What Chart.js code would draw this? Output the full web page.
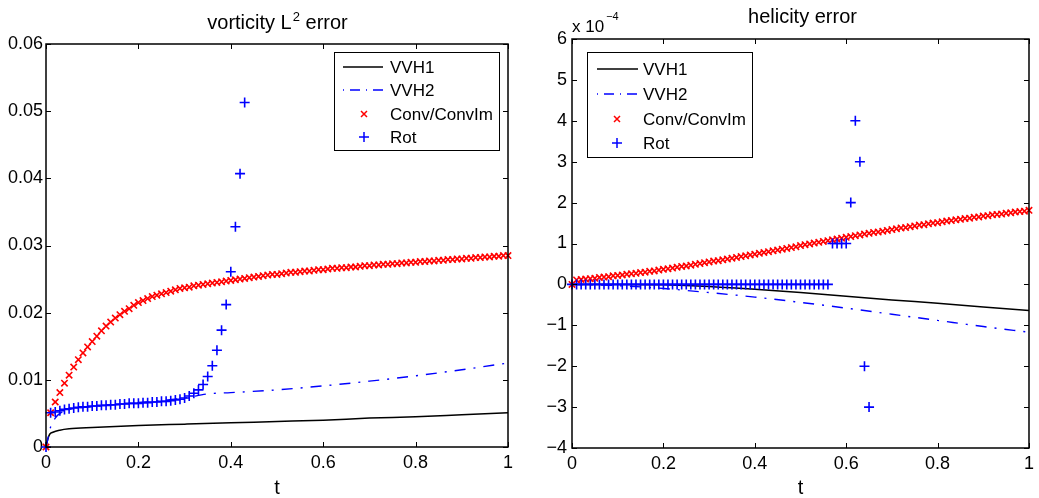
<!DOCTYPE html>
<html>
<head>
<meta charset="utf-8">
<script src="https://cdn.jsdelivr.net/npm/chart.js@4.4.1/dist/chart.umd.min.js"></script>
<style>
  body { margin: 0; background: #fff; }
  #wrap { position: relative; width: 1039px; height: 498px; }
  canvas { position: absolute; top: 0; }
</style>
</head>
<body>
<div id="wrap">
  <canvas id="vort" width="520" height="498" style="left:0"></canvas>
  <canvas id="heli" width="519" height="498" style="left:520px"></canvas>
</div>
<script>
// marker series are sampled every 0.01 in t
const markerStep = 0.01

const xTicks = [0, 0.2, 0.4, 0.6, 0.8, 1]
const vortTicks = [0, 0.01, 0.02, 0.03, 0.04, 0.05, 0.06]
const heliTicks = [-4, -3, -2, -1, 0, 1, 2, 3, 4, 5, 6]

// vorticity L2 error
const vortConv = [
  0, 0.0051, 0.0067, 0.0081, 0.0095, 0.0107, 0.0119, 0.0130, 0.0140, 0.0149,
  0.0157, 0.0165, 0.0173, 0.0180, 0.0186, 0.0192, 0.0197, 0.0202, 0.0206, 0.0211,
  0.0215, 0.0218, 0.0221, 0.0224, 0.0226, 0.0228, 0.0230, 0.0232, 0.0234, 0.0236,
  0.0237, 0.0238, 0.0240, 0.0241, 0.0242, 0.0243, 0.0244, 0.0245, 0.0246, 0.0247,
  0.0248, 0.0249, 0.0250, 0.0251, 0.0252, 0.0253, 0.0254, 0.0255, 0.0256, 0.0257,
  0.0257, 0.0258, 0.0259, 0.0260, 0.0260, 0.0261, 0.0262, 0.0262, 0.0263, 0.0264,
  0.0264, 0.0265, 0.0266, 0.0266, 0.0267, 0.0267, 0.0268, 0.0268, 0.0269, 0.0270,
  0.0270, 0.0271, 0.0271, 0.0272, 0.0272, 0.0273, 0.0273, 0.0274, 0.0274, 0.0275,
  0.0275, 0.0276, 0.0276, 0.0277, 0.0277, 0.0278, 0.0278, 0.0279, 0.0279, 0.0280,
  0.0280, 0.0281, 0.0281, 0.0282, 0.0282, 0.0283, 0.0283, 0.0284, 0.0284, 0.0285,
  0.0285
]
const vortRot = [
  0, 0.0051, 0.0052, 0.0054, 0.0056, 0.0057, 0.0058, 0.0059, 0.0060, 0.0060,
  0.0061, 0.0061, 0.0062, 0.0062, 0.0063, 0.0063, 0.0064, 0.0064, 0.0065, 0.0065,
  0.0065, 0.0066, 0.0066, 0.0067, 0.0067, 0.0068, 0.0068, 0.0069, 0.0070, 0.0071,
  0.0073, 0.0076, 0.0080, 0.0085, 0.0093, 0.0105, 0.0121, 0.0144, 0.0174, 0.0212,
  0.0261, 0.0328, 0.0407, 0.0513
]
const vortLineT1 = [0, 0.004, 0.008, 0.015, 0.03, 0.05, 0.1, 0.2, 0.3, 0.4, 0.5, 0.6, 0.7, 0.8, 0.9, 1]
const vortVVH1 = [0, 0.0012, 0.0019, 0.0022, 0.0025, 0.0027, 0.0029, 0.0032, 0.0034, 0.0036, 0.0038, 0.0040, 0.0043, 0.0045, 0.0048, 0.0051]
const vortLineT2 = [0, 0.005, 0.01, 0.02, 0.03, 0.05, 0.1, 0.2, 0.3, 0.35, 0.4, 0.5, 0.6, 0.7, 0.8, 0.9, 1]
const vortVVH2 = [0, 0.0015, 0.0030, 0.0043, 0.0050, 0.0056, 0.0060, 0.0066, 0.0073, 0.0079, 0.0081, 0.0085, 0.0091, 0.0098, 0.0106, 0.0115, 0.0125]

// helicity error (x 1e-4)
const heliConv = [
  0, 0.11, 0.12, 0.13, 0.14, 0.15, 0.17, 0.18, 0.19, 0.21,
  0.22, 0.23, 0.25, 0.26, 0.27, 0.29, 0.30, 0.32, 0.33, 0.35,
  0.37, 0.38, 0.40, 0.42, 0.44, 0.45, 0.47, 0.49, 0.51, 0.53,
  0.55, 0.57, 0.58, 0.60, 0.62, 0.64, 0.66, 0.68, 0.70, 0.72,
  0.74, 0.76, 0.78, 0.80, 0.82, 0.84, 0.86, 0.88, 0.90, 0.92,
  0.95, 0.97, 0.99, 1.01, 1.03, 1.05, 1.07, 1.09, 1.11, 1.13,
  1.15, 1.17, 1.19, 1.21, 1.23, 1.25, 1.27, 1.28, 1.30, 1.32,
  1.34, 1.36, 1.38, 1.39, 1.41, 1.43, 1.45, 1.46, 1.48, 1.50,
  1.51, 1.53, 1.55, 1.56, 1.58, 1.59, 1.61, 1.62, 1.64, 1.65,
  1.67, 1.68, 1.70, 1.71, 1.72, 1.74, 1.75, 1.77, 1.78, 1.79,
  1.81
]
const heliRot = [
  0, 0, 0, 0, 0, 0, 0, 0, 0, 0,
  0, 0, 0, 0, 0, 0, 0, 0, 0, 0,
  0, 0, 0, 0, 0, 0, 0, 0, 0, 0,
  0, 0, 0, 0, 0, 0, 0, 0, 0, 0,
  0, 0, 0, 0, 0, 0, 0, 0, 0, 0,
  0, 0, 0, 0, 0, 0, 0, 1, 1, 1,
  1, 2, 4, 3, -2, -3
]
const heliLineT = [0, 0.1, 0.2, 0.3, 0.4, 0.5, 0.6, 0.7, 0.8, 0.9, 1]
const heliVVH1 = [0, 0, -0.01, -0.05, -0.12, -0.20, -0.29, -0.38, -0.46, -0.55, -0.64]
const heliVVH2 = [0, -0.03, -0.10, -0.20, -0.31, -0.44, -0.58, -0.73, -0.88, -1.03, -1.17]

const FONT = "'Liberation Sans', Arial, Helvetica, sans-serif"
const RED = '#ff0000'
const BLUE = '#0000ff'

const markerPoints = vals => vals.map((y, i) => ({x: Math.round(i * markerStep * 100) / 100, y}))
const linePoints = (ts, vals) => vals.map((y, i) => ({x: ts[i], y}))
const minus = v => v < 0 ? '\u2212' + Math.abs(v) : String(v)

function makeDatasets(t1, v1, t2, v2, conv, rot) {
  return [
    {label: 'VVH1', data: linePoints(t1, v1), showLine: true, borderColor: '#000', borderWidth: 1.5,
      pointRadius: 0, cubicInterpolationMode: 'monotone', order: 4},
    {label: 'VVH2', data: linePoints(t2, v2), showLine: true, borderColor: BLUE, borderWidth: 1.4,
      borderDash: [11, 8, 2, 8], pointRadius: 0, cubicInterpolationMode: 'monotone', order: 3},
    {label: 'Conv/ConvIm', data: markerPoints(conv), showLine: false, pointStyle: 'crossRot',
      pointRadius: 4.5, borderColor: RED, pointBorderWidth: 1.6, clip: false, order: 2},
    {label: 'Rot', data: markerPoints(rot), showLine: false, pointStyle: 'cross',
      pointRadius: 5, borderColor: BLUE, pointBorderWidth: 1.6, clip: false, order: 1}
  ]
}

// axes box, inward ticks, titles and legend drawn MATLAB-style
const matlabPlugin = {
  id: 'matlab',
  afterDraw(chart, args, opts) {
    const ctx = chart.ctx
    const a = chart.chartArea
    const xs = chart.scales.x, ys = chart.scales.y
    ctx.save()
    ctx.strokeStyle = '#000'
    ctx.lineWidth = 1.5
    ctx.strokeRect(a.left, a.top, a.right - a.left, a.bottom - a.top)
    ctx.lineWidth = 1
    ctx.beginPath()
    const tl = 5
    xs.ticks.forEach(t => {
      const px = Math.round(xs.getPixelForValue(t.value)) + 0.5
      ctx.moveTo(px, a.bottom); ctx.lineTo(px, a.bottom - tl)
      ctx.moveTo(px, a.top); ctx.lineTo(px, a.top + tl)
    })
    ys.ticks.forEach(t => {
      const py = Math.round(ys.getPixelForValue(t.value)) + 0.5
      ctx.moveTo(a.left, py); ctx.lineTo(a.left + tl, py)
      ctx.moveTo(a.right, py); ctx.lineTo(a.right - tl, py)
    })
    ctx.stroke()

    ctx.fillStyle = '#000'
    ctx.textBaseline = 'alphabetic'
    // title, with optional superscript part
    const tt = opts.title
    ctx.font = '20px ' + FONT
    const w1 = ctx.measureText(tt.before).width
    const w3 = tt.after ? ctx.measureText(tt.after).width : 0
    ctx.font = '13px ' + FONT
    const w2 = tt.sup ? ctx.measureText(tt.sup).width : 0
    let x = tt.x - (w1 + w2 + w3) / 2
    ctx.textAlign = 'left'
    ctx.font = '20px ' + FONT
    ctx.fillText(tt.before, x, tt.y)
    x += w1
    if (tt.sup) {
      ctx.font = '13px ' + FONT
      ctx.fillText(tt.sup, x + 1, tt.y - 8)
      x += w2 + 1
      ctx.font = '20px ' + FONT
      ctx.fillText(tt.after, x, tt.y)
    }
    // x axis label
    ctx.font = '20px ' + FONT
    ctx.textAlign = 'center'
    ctx.fillText('t', (a.left + a.right) / 2, 494)
    // exponent note
    if (opts.exponent) {
      const e = opts.exponent
      ctx.textAlign = 'left'
      ctx.font = '17px ' + FONT
      ctx.fillText(e.base, e.x, e.y)
      const bw = ctx.measureText(e.base).width
      ctx.font = '11px ' + FONT
      ctx.fillText(e.power, e.x + bw + 2, e.y - 12)
    }
    // legend
    const lg = opts.legend
    ctx.fillStyle = '#fff'
    ctx.fillRect(lg.x, lg.y, lg.w, lg.h)
    ctx.strokeStyle = '#000'
    ctx.lineWidth = 1
    ctx.strokeRect(lg.x + 0.5, lg.y + 0.5, lg.w, lg.h)
    chart.data.datasets.forEach((ds, i) => {
      const y = lg.rows[i]
      ctx.strokeStyle = ds.borderColor
      ctx.lineWidth = ds.showLine ? ds.borderWidth : 1.5
      ctx.beginPath()
      if (ds.showLine) {
        ctx.setLineDash(ds.borderDash ? [1, 6, 10, 6] : [])
        ctx.moveTo(lg.lineX0, y); ctx.lineTo(lg.lineX1, y)
      } else if (ds.pointStyle === 'cross') {
        ctx.moveTo(lg.markX - 5, y); ctx.lineTo(lg.markX + 5, y)
        ctx.moveTo(lg.markX, y - 5); ctx.lineTo(lg.markX, y + 5)
      } else {
        const r = 3
        ctx.moveTo(lg.markX - r, y - r); ctx.lineTo(lg.markX + r, y + r)
        ctx.moveTo(lg.markX - r, y + r); ctx.lineTo(lg.markX + r, y - r)
      }
      ctx.stroke()
      ctx.setLineDash([])
      ctx.fillStyle = '#000'
      ctx.font = '17px ' + FONT
      ctx.textAlign = 'left'
      ctx.textBaseline = 'middle'
      ctx.fillText(ds.label, lg.textX, y + 1)
    })
    ctx.restore()
  }
}

function axisOpts(ticks, fmt, size, pad) {
  return {
    type: 'linear',
    min: ticks[0],
    max: ticks[ticks.length - 1],
    afterBuildTicks: s => { s.ticks = ticks.map(v => ({value: v})) },
    ticks: {callback: fmt, color: '#000', font: {size: 18, family: FONT}, padding: pad,
      maxRotation: 0, autoSkip: false},
    grid: {display: false, drawTicks: false},
    border: {display: false},
    afterFit: s => { if (s.isHorizontal()) s.height = size; else s.width = size }
  }
}

function makeChart(id, datasets, yTicks, yFmt, dims, plugOpts) {
  return new Chart(document.getElementById(id), {
    type: 'scatter',
    data: {datasets},
    options: {
      responsive: false,
      devicePixelRatio: 1,
      animation: false,
      events: [],
      layout: {padding: {top: dims.top, right: dims.right, left: 0, bottom: 0}},
      scales: {
        x: axisOpts(xTicks, v => String(v), dims.xh, 5),
        y: axisOpts(yTicks, yFmt, dims.yw, dims.ypad)
      },
      plugins: {legend: {display: false}, tooltip: {enabled: false}, matlab: plugOpts}
    },
    plugins: [matlabPlugin]
  })
}

Chart.defaults.font.family = FONT

makeChart('vort',
  makeDatasets(vortLineT1, vortVVH1, vortLineT2, vortVVH2, vortConv, vortRot),
  vortTicks, v => String(v),
  {top: 44, right: 12, xh: 51, yw: 46, ypad: 3},
  {
    title: {before: 'vorticity L', sup: '2', after: ' error', x: 277, y: 29},
    legend: {x: 334, y: 52, w: 165, h: 98, rows: [67, 90, 114, 137],
      lineX0: 343, lineX1: 383, markX: 364, textX: 390}
  })

makeChart('heli',
  makeDatasets(heliLineT, heliVVH1, heliLineT, heliVVH2, heliConv, heliRot),
  heliTicks, minus,
  {top: 39, right: 6, xh: 50, yw: 52, ypad: 5},
  {
    title: {before: 'helicity error', x: 282.5, y: 23},
    exponent: {base: 'x 10', power: '\u22124', x: 52, y: 32},
    legend: {x: 67, y: 52, w: 165, h: 105, rows: [69, 94, 119, 143],
      lineX0: 77, lineX1: 118, markX: 97, textX: 123}
  })
</script>
</body>
</html>
